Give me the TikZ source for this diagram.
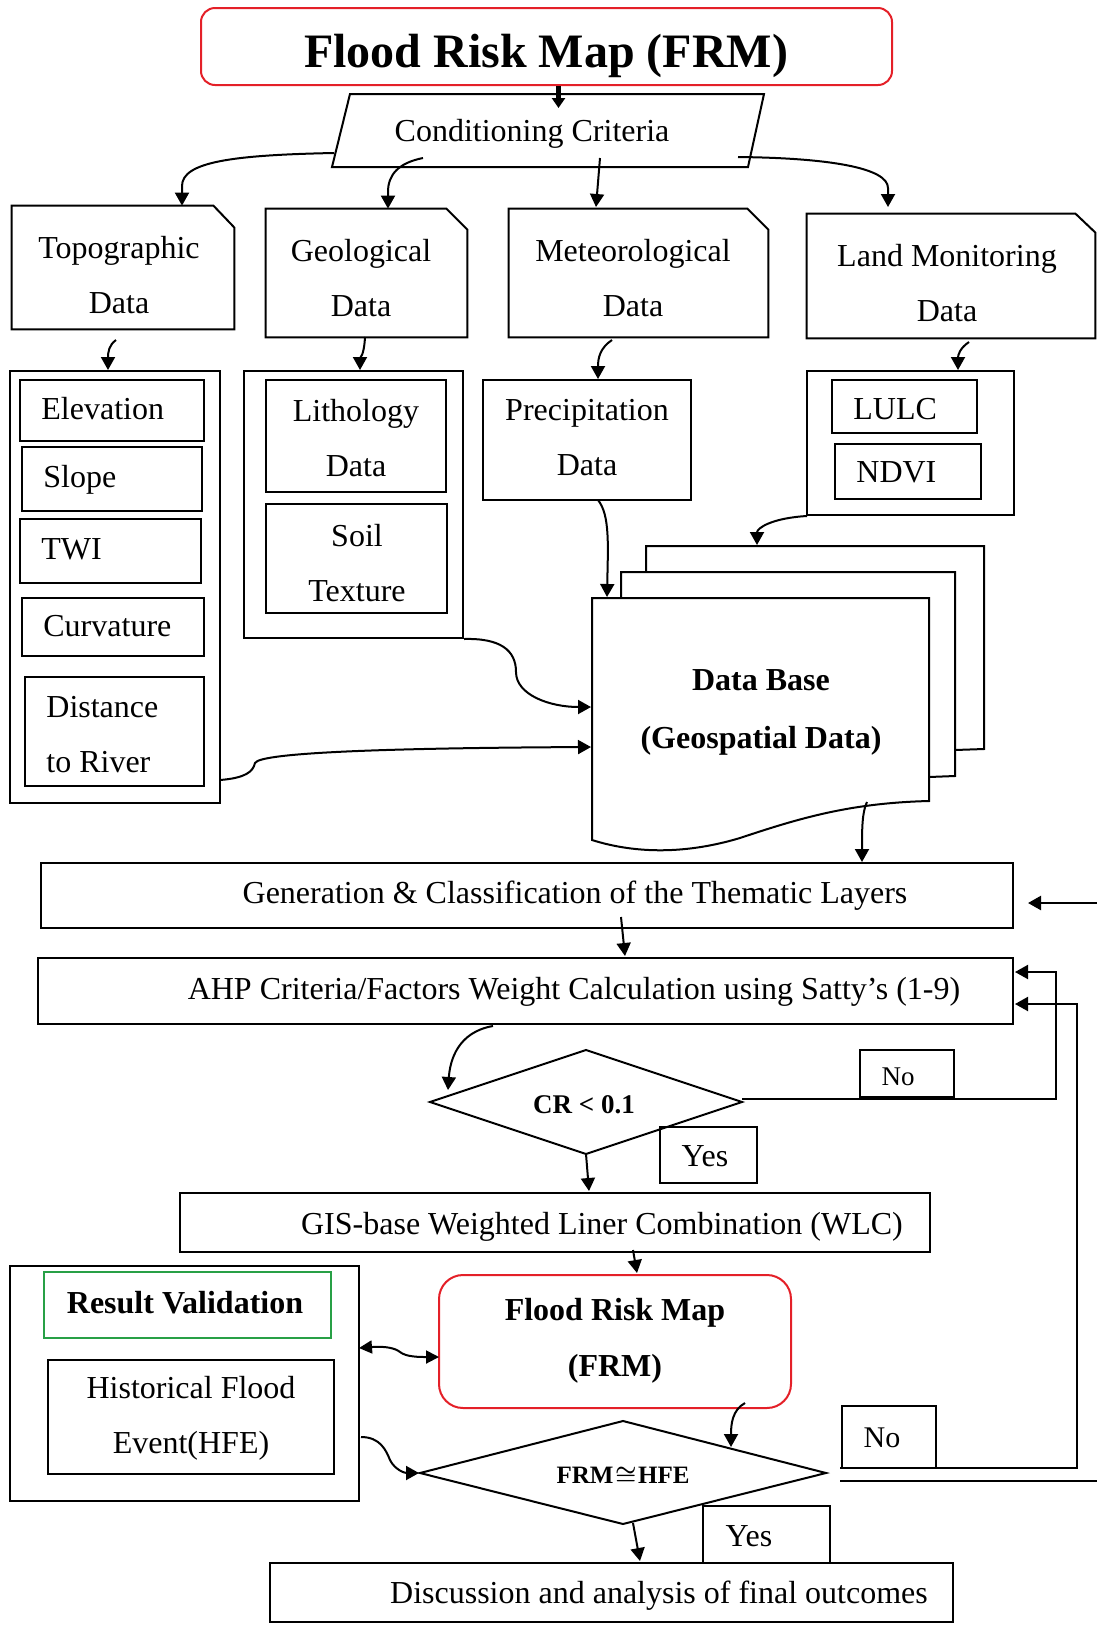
\documentclass[tikz,border=0pt]{standalone}
\usepackage{fontspec}
\setmainfont{Liberation Serif}
\usetikzlibrary{arrows.meta,fit}
\definecolor{frmred}{RGB}{228,32,40}
\definecolor{valgreen}{RGB}{40,160,70}
\begin{document}
\begin{tikzpicture}[x=0.5pt,y=-0.5pt,
  box/.style={draw, line width=1pt, inner sep=0pt},
  hid/.style={inner sep=0pt},
  frame/.style={line width=1pt, line join=miter},
  txt/.style={font=\fontsize{16}{27.5}\selectfont, align=center, inner sep=0pt},
  txtl/.style={font=\fontsize{16}{27.5}\selectfont, align=left, inner sep=0pt, anchor=west},
  btxt/.style={font=\bfseries\fontsize{16}{28}\selectfont, align=center, inner sep=0pt},
  one/.style={text height=11pt, text depth=3pt},
  arr/.style={-{Triangle[length=6.5pt,width=7pt]}, line width=1pt},
  darr/.style={{Triangle[length=6.5pt,width=6.5pt]}-{Triangle[length=6.5pt,width=6.5pt]}, line width=1pt},
]
\useasboundingbox (0,0) rectangle (1097,1629);

% ---------- title ----------
\node[box, draw=frmred, rounded corners=7pt, fit={(201,8)(892,85)}] (title) {};
\node[font=\bfseries\fontsize{24}{28}\selectfont, inner sep=0pt, anchor=base] (titleT) at (546,67) {Flood Risk Map (FRM)};

% ---------- conditioning criteria ----------
\draw[frame] (350,94) -- (764,94) -- (748,167) -- (332,167) -- cycle;
\node[txt, one] (crit) at (532,133) {Conditioning Criteria};
\draw[line width=2.3pt, -{Triangle[length=5pt,width=6.5pt]}] ([xshift=6pt]title.south) -- ++(0,22);

% ---------- data category documents ----------
\node[hid, fit={(12,206)(234,329)}] (topo) {};
\node[hid, fit={(266,209)(467,337)}] (geo) {};
\node[hid, fit={(509,209)(768,337)}] (met) {};
\node[hid, fit={(807,214)(1095,338)}] (land) {};
\foreach \n/\cx/\cy in {topo/10.5/11, geo/10.5/10.5, met/10.5/10.5, land/10/9.5}{
  \draw[frame] (\n.north west) -- ([xshift=-\cx pt]\n.north east) -- ([yshift=-\cy pt]\n.north east) -- (\n.south east) -- (\n.south west) -- cycle;
}
\node[txt] (topoT) at (119,275) {Topographic\\Data};
\node[txt] (geoT) at (361,278) {Geological\\Data};
\node[txt] (metT) at (633,278) {Meteorological\\Data};
\node[txt] (landT) at (947,283) {Land Monitoring\\Data};

\draw[arr] (334,153) .. controls (232,155) and (182,162) .. (182,186) -- (topo.north -| 182,0);
\draw[arr] (423,158) .. controls (398,163) and (388,175) .. (388,192) -- (geo.north -| 388,0);
\draw[arr] (600,158) -- (596,207);
\draw[arr] (738,157) .. controls (830,158) and (888,168) .. (888,188) -- (888,207);

% ---------- topographic group ----------
\node[box, fit={(10,371)(220,803)}] (topoG) {};
\node[box, fit={(20,380)(204,441)}] (elev) {};
\node[box, fit={(22,447)(202,511)}] (slope) {};
\node[box, fit={(20,519)(201,583)}] (twi) {};
\node[box, fit={(22,598)(204,656)}] (curv) {};
\node[box, fit={(25,677)(204,786)}] (dist) {};
\node[txtl, one] (elevT) at (41,411) {Elevation};
\node[txtl, one] (slopeT) at (43,479) {Slope};
\node[txtl, one] (twiT) at (41,551) {TWI};
\node[txtl, one] (curvT) at (43,628) {Curvature};
\node[txtl] (distT) at (46,735) {Distance\\to River};

% ---------- geological group ----------
\node[box, fit={(244,371)(463,638)}] (geoG) {};
\node[box, fit={(266,380)(446,492)}] (lith) {};
\node[box, fit={(266,504)(447,613)}] (soil) {};
\node[txt] (lithT) at (356,438) {Lithology\\Data};
\node[txt] (soilT) at (357,563) {Soil\\Texture};

% ---------- precipitation ----------
\node[box, fit={(483,380)(691,500)}] (prec) {};
\node[txt] (precT) at (587,438) {Precipitation\\Data};

% ---------- land group ----------
\node[box, fit={(807,371)(1014,515)}] (landG) {};
\node[box, fit={(832,380)(977,433)}] (lulc) {};
\node[box, fit={(835,444)(981,499)}] (ndvi) {};
\node[txtl, one] (lulcT) at (853,411) {LULC};
\node[txtl, one] (ndviT) at (856,474) {NDVI};

\draw[arr] (116,340) .. controls (109,345) and (108,352) .. (topoG.north -| 108,0);
\draw[arr] (365,337) .. controls (364,356) and (360,358) .. (geoG.north -| 360,0);
\draw[arr] (612,340) .. controls (600,348) and (598,358) .. (prec.north -| 598,0);
\draw[arr] (969,342) .. controls (960,348) and (958,355) .. (landG.north -| 958,0);

% ---------- data base (stacked documents) ----------
\draw[frame] (646,571) -- (646,546) -- (984,546) -- (984,749) .. controls (970,749) .. (955,750);
\draw[frame, fill=white] (621,598) -- (621,572) -- (955,572) -- (955,776) .. controls (942,776) .. (929,777);
\draw[frame, fill=white] (592,598) -- (929,598) -- (929,801)
   .. controls (850,803) and (800,818) .. (740,838)
   .. controls (680,856) and (630,852) .. (592,840) -- cycle;
\node[btxt] (db) at (761,712) {Data Base\\[1pt](Geospatial Data)};

\draw[arr] (598,500) .. controls (610,515) and (608,545) .. (607,597);
\draw[arr] (807,516) .. controls (772,518) and (757,528) .. (757,545);
\draw[arr] (geoG.south east) .. controls (500,638) and (516,650) .. (516,672) .. controls (516,695) and (550,707) .. (591,707);
\draw[arr] (220,780) .. controls (245,778) and (253,772) .. (255,763) .. controls (260,752) and (400,748) .. (591,747);

% ---------- process chain ----------
\node[box, fit={(41,863)(1013,928)}] (gen) {};
\node[txt, one] (genT) at (575,895) {Generation \& Classification of the Thematic Layers};
\node[box, fit={(38,958)(1013,1024)}] (ahp) {};
\node[txt, one] (ahpT) at (574,991) {AHP Criteria/Factors Weight Calculation using Satty’s (1-9)};

\draw[arr] (867,802) .. controls (862,812) and (862,830) .. (gen.north -| 862,0);
\draw[arr] (621,917) -- (625,956);

% CR diamond
\draw[frame] (430,1102) -- (586,1050) -- (742,1102) -- (586,1154) -- cycle;
\node[font=\bfseries\fontsize{13.5}{16}\selectfont, inner sep=0pt] (cr) at (584,1105) {CR < 0.1};
\node[box, fit={(860,1050)(954,1097)}] (no1) {};
\node[font=\fontsize{13.5}{16}\selectfont, inner sep=0pt] (no1T) at (898,1077) {No};
\node[box, fit={(660,1127)(757,1183)}] (yes1) {};
\node[txt, one] (yes1T) at (705,1158) {Yes};

\draw[arr] (493,1026) .. controls (458,1032) and (450,1060) .. (448,1090);
\draw[arr] (586,1154) -- (589,1191);
\draw[arr] (742,1099) -- (1056,1099) -- (1056,972) -- (1015,972);

\node[box, fit={(180,1193)(930,1252)}] (gis) {};
\node[txt, one] (gisT) at (602,1226) {GIS-base Weighted Liner Combination (WLC)};
\draw[arr] (633,1250) -- (637,1273);

% ---------- validation ----------
\node[box, draw=frmred, rounded corners=12pt, fit={(439,1275)(791,1408)}] (frm) {};
\node[btxt] (frmT) at (615,1341) {Flood Risk Map\\(FRM)};

\node[box, fit={(10,1266)(359,1501)}] (resG) {};
\node[box, draw=valgreen, fit={(44,1272)(331,1338)}] (resV) {};
\node[btxt, one] (resVT) at (185,1305) {Result Validation};
\node[box, fit={(48,1360)(334,1474)}] (hist) {};
\node[txt] (histT) at (191,1418) {Historical Flood\\Event(HFE)};

\draw[darr] (359,1348) .. controls (385,1346) and (395,1348) .. (400,1352) .. controls (406,1357) and (420,1357) .. (439,1357);

% FRM ~ HFE diamond
\draw[frame] (420,1473) -- (623,1421) -- (826,1473) -- (623,1524) -- cycle;
\node[font=\bfseries\fontsize{12.5}{15}\selectfont, inner sep=0pt] (fh) at (623,1476) {FRM\kern0.8pt{\boldmath$\cong$}\kern0.8pt HFE};
\node[box, fit={(842,1406)(936,1468)}] (no2) {};
\node[font=\fontsize{15}{18}\selectfont, inner sep=0pt] (no2T) at (882,1438) {No};
\node[box, fit={(703,1506)(830,1563)}] (yes2) {};
\node[txt, one] (yes2T) at (749,1538) {Yes};

\draw[arr] (745,1403) .. controls (732,1410) and (731,1425) .. (731,1447);
\draw[arr] (361,1437) .. controls (380,1437) and (386,1450) .. (390,1460) .. controls (395,1470) and (405,1473) .. (419,1473);
\draw[arr] (633,1523) -- (640,1561);

\node[box, fit={(270,1563)(953,1622)}] (disc) {};
\node[txt, one] (discT) at (659,1595) {Discussion and analysis of final outcomes};

% feedback loops
\draw[arr] (840,1468) -- (1077,1468) -- (1077,1004) -- (1015,1004);
\begin{scope}
\clip (0,0) rectangle (1097,1629);
\draw[arr, line width=1.2pt] (840,1481) -- (1110,1481) -- (1110,903) -- (1028,903);
\end{scope}
\end{tikzpicture}
\end{document}
